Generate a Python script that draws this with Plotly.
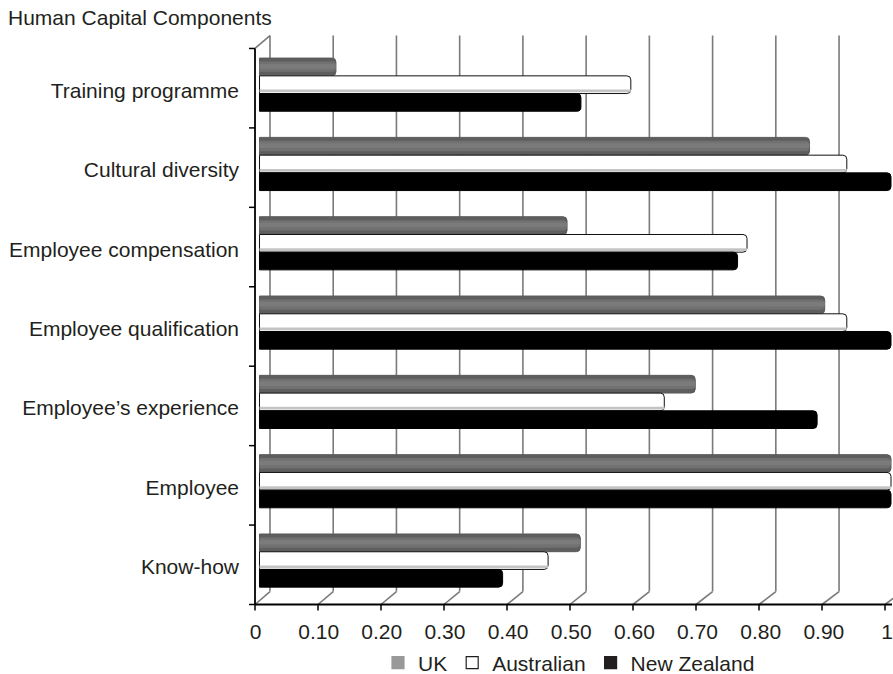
import plotly.graph_objects as go

# ---------------- data ----------------
categories = ["Know-how", "Employee", "Employee\u2019s experience", "Employee qualification",
              "Employee compensation", "Cultural diversity", "Training programme"]
uk = [0.508, 1.0, 0.690, 0.895, 0.487, 0.871, 0.121]
australian = [0.457, 1.0, 0.641, 0.930, 0.772, 0.930, 0.588]
new_zealand = [0.385, 1.0, 0.883, 1.0, 0.757, 1.0, 0.509]
tick_vals = [0, 0.1, 0.2, 0.3, 0.4, 0.5, 0.6, 0.7, 0.8, 0.9, 1.0]
tick_text = ["0", "0.10", "0.20", "0.30", "0.40", "0.50", "0.60", "0.70", "0.80", "0.90", "1"]
series_names = ["UK", "Australian", "New Zealand"]

# ---------------- layout geometry (pixels) ----------------
W, H = 893, 674
L, R = 255, 893
T, B = 44.5, 608
PW, PH = R - L, B - T
BAR0, BAR1 = 259.5, 892.0          # pixel of value 0 and 1 for bars
FRONT0, FRONT_SCALE = 255, 631     # front floor axis
DX, DY = 15, 13                    # 3D depth offset
BACK_TOP = B - 7 * 80 - DY

def pxx(x):
    return (x - L) / PW

def pxy(y):
    return (B - y) / PH

FONT = "Liberation Sans, Arial, Helvetica, sans-serif"
TXT = "#231f20"
FS = 21

fig = go.Figure()

bw = 0.223
specs = [
    (uk, 0.112, "#5e5e5e", "#5a5a5a"),
    (australian, -0.112, "#ffffff", "#111111"),
    (new_zealand, -0.335, "#000000", "#000000"),
]
for vals, off, col, lc in specs:
    fig.add_trace(go.Bar(
        y=categories, x=vals, orientation="h", offset=off, width=bw,
        marker=dict(color=col, line=dict(color=lc, width=1), cornerradius=4),
        showlegend=False, hoverinfo="skip",
    ))
# shading bands to suggest cylinders
fig.add_trace(go.Bar(y=categories, x=uk, orientation="h", offset=0.112 + 0.05, width=0.13,
                     marker=dict(color="#717171", line=dict(width=0), cornerradius=4),
                     showlegend=False, hoverinfo="skip"))
fig.add_trace(go.Bar(y=categories, x=uk, orientation="h", offset=0.112 + 0.09, width=0.06,
                     marker=dict(color="#7b7b7b", line=dict(width=0), cornerradius=3),
                     showlegend=False, hoverinfo="skip"))
fig.add_trace(go.Bar(y=categories, x=australian, orientation="h", offset=-0.112 + 0.015, width=0.035,
                     marker=dict(color="#c4c4c4", line=dict(width=0)),
                     showlegend=False, hoverinfo="skip"))

# legend entries
leg_cols = [("#999999", "#999999"), ("#ffffff", "#231f20"), ("#231f20", "#231f20")]
for name, (c, lc) in zip(series_names, leg_cols):
    fig.add_trace(go.Bar(y=[None], x=[None], orientation="h", name=name,
                         marker=dict(color=c, line=dict(color=lc, width=1.2))))

shapes = []
grid = dict(color="#7a7a7a", width=1.6)
for t in tick_vals:
    xb = FRONT0 + DX + t * 633.3
    xf = FRONT0 + t * FRONT_SCALE
    if xb <= W:
        shapes.append(dict(type="line", xref="paper", yref="paper",
                           x0=pxx(xb), x1=pxx(xb), y0=pxy(BACK_TOP), y1=pxy(B - DY),
                           line=grid, layer="below"))
    shapes.append(dict(type="line", xref="paper", yref="paper",
                       x0=pxx(xb), x1=pxx(xf), y0=pxy(B - DY), y1=pxy(B),
                       line=grid, layer="below"))
    # bottom tick
    shapes.append(dict(type="line", xref="paper", yref="paper",
                       x0=pxx(xf), x1=pxx(xf), y0=pxy(B), y1=pxy(B + 6),
                       line=dict(color="#000", width=1.5)))
# left wall top diagonal
shapes.append(dict(type="line", xref="paper", yref="paper",
                   x0=pxx(L), x1=pxx(L + DX), y0=pxy(B - 560), y1=pxy(BACK_TOP),
                   line=grid, layer="below"))
# front left axis
shapes.append(dict(type="line", xref="paper", yref="paper",
                   x0=pxx(L), x1=pxx(L), y0=pxy(B - 560), y1=pxy(B),
                   line=dict(color="#000", width=1.8)))
# floor line
shapes.append(dict(type="line", xref="paper", yref="paper",
                   x0=pxx(L), x1=1, y0=0, y1=0,
                   line=dict(color="#000", width=1.8)))
# left ticks
for k in range(8):
    yy = B - 80 * k
    shapes.append(dict(type="line", xref="paper", yref="paper",
                       x0=pxx(L - 6), x1=pxx(L), y0=pxy(yy), y1=pxy(yy),
                       line=dict(color="#000", width=1.5)))

fig.update_layout(
    width=W, height=H,
    margin=dict(l=L, r=W - R, t=T, b=H - B, pad=0),
    paper_bgcolor="white", plot_bgcolor="rgba(0,0,0,0)",
    barmode="overlay",
    font=dict(family=FONT, size=FS, color=TXT),
    title=dict(text="Human Capital Components", x=8 / W, xanchor="left",
               xref="container", yref="container", y=1 - 18 / H, yanchor="middle",
               font=dict(family=FONT, size=FS, color=TXT)),
    xaxis=dict(range=[(L - BAR0) / (BAR1 - BAR0), (R - BAR0) / (BAR1 - BAR0)],
               tickvals=tick_vals, ticktext=tick_text, showgrid=False, zeroline=False,
               showline=False, ticks="", ticklabelstandoff=12, ticklabelshift=-4,
               ticklabeloverflow="allow",
               tickfont=dict(family=FONT, size=FS, color=TXT), fixedrange=True),
    yaxis=dict(type="category", categoryorder="array", categoryarray=categories,
               range=[-0.554, 6.5], showgrid=False, zeroline=False, showline=False,
               ticks="", ticklabelstandoff=15, ticklabelshift=6,
               tickfont=dict(family=FONT, size=FS, color=TXT), fixedrange=True),
    legend=dict(orientation="h", xref="container", yref="container",
                x=569 / W, xanchor="center", y=1 - 663 / H, yanchor="middle",
                font=dict(family=FONT, size=FS, color=TXT), traceorder="normal",
                itemwidth=30, bgcolor="rgba(0,0,0,0)"),
    shapes=shapes,
    showlegend=True,
)

fig.write_html("out.html")
